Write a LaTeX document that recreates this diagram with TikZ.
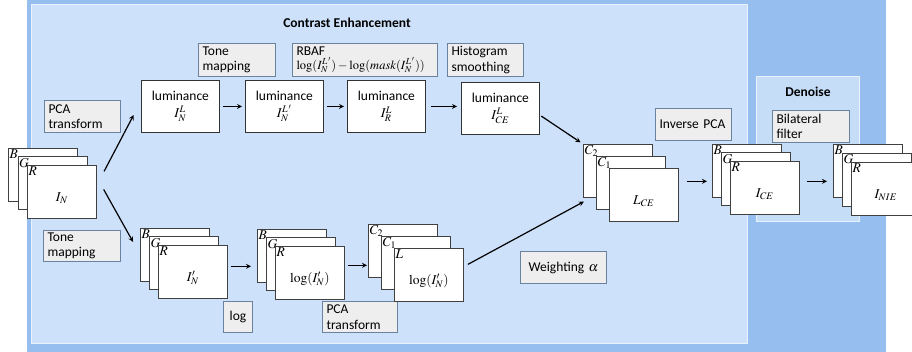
\documentclass[tikz,border=0pt]{standalone}
\usepackage{mathptmx}
\usepackage[no-math]{fontspec}
\setmainfont{Carlito}

\definecolor{outerblue}{RGB}{150,190,238}
\definecolor{panelblue}{RGB}{205,225,250}
\definecolor{denoiseblue}{RGB}{198,221,248}
\definecolor{opfill}{RGB}{238,238,238}
\definecolor{opline}{RGB}{105,130,160}

\tikzset{
  opbox/.style={draw=opline, fill=opfill, line width=1pt, anchor=north west,
    align=left, inner xsep=4pt, inner ysep=0pt},
  lumbox/.style={draw=black!80, fill=white, line width=0.8pt, anchor=north west,
    minimum width=78pt, minimum height=52pt, align=center, inner sep=0pt},
  layer/.style={draw=black!75, fill=white, line width=0.7pt, anchor=north west,
    minimum width=69pt, minimum height=53pt, inner sep=0pt},
  tag/.style={anchor=north west, inner sep=1.5pt},
  flow/.style={->, >=stealth, line width=1.2pt, shorten <=3pt, shorten >=3pt},
  title/.style={font=\fontsize{13.5}{15.5}\selectfont\bfseries}
}

\begin{document}
\begin{tikzpicture}[x=1pt, y=-1pt, font=\fontsize{13.5}{15.5}\selectfont]
  \useasboundingbox (0,0) rectangle (912,352);

  % three stacked image planes: name, x, y, dx, dy, back, middle, front, content
  \newcommand{\imgstack}[9]{
    \node[layer] (#1b) at (#2,#3) {};
    \node[tag] (#1bt) at (#1b.north west) {#6};
    \node[layer] (#1m) at ({#2+#4},{#3+#5}) {};
    \node[tag] (#1mt) at (#1m.north west) {#7};
    \node[layer] (#1f) at ({#2+2*#4},{#3+2*#5}) {};
    \node[tag] (#1ft) at (#1f.north west) {#8};
    \node (#1c) at ([yshift=-6pt]#1f.center) {#9};
  }
  \newcommand{\Lp}{L\mkern2mu'}

  % panels
  \fill[outerblue] (27,0) rectangle (886,352);
  \draw[white!55!panelblue, line width=1pt, fill=panelblue] (31,5) rectangle (747,343);
  \draw[white!55!panelblue, line width=1pt, fill=denoiseblue] (756,77) rectangle (859,222);
  \node[title] (cetitle) at (347,23) {Contrast Enhancement};
  \node[title] (dntitle) at (808,92) {Denoise};

  % operations
  \node[opbox, text width=68pt, minimum height=32pt] (pcaA) at (44,100) {PCA\\transform};
  \node[opbox, text width=69pt, minimum height=33pt] (toneA) at (198,43) {Tone\\mapping};
  \node[opbox, text width=137pt, minimum height=33pt, font=\fontsize{13.5}{13}\selectfont] (rbaf) at (292,43)
    {RBAF\\[1pt]{\fontsize{12.5}{13}\selectfont$\log(I_N^{\Lp})-\log(mask(I_N^{\Lp}))$}};
  \node[opbox, text width=68pt, minimum height=33pt] (hist) at (447,43) {Histogram\\smoothing};
  \node[opbox, text width=69pt, minimum height=31pt] (toneB) at (43,230) {Tone\\mapping};
  \node[opbox, text width=21pt, minimum height=31pt, align=center] (logop) at (223,301) {log};
  \node[opbox, text width=67pt, minimum height=31pt] (pcaB) at (322,301) {PCA\\transform};
  \node[opbox, text width=78pt, minimum height=32pt, align=center] (weight) at (520,251) {Weighting $\alpha$};
  \node[opbox, text width=68pt, minimum height=32pt] (invpca) at (655,108) {Inverse PCA};
  \node[opbox, text width=69pt, minimum height=32pt] (bilat) at (772,110) {Bilateral\\filter};

  % luminance channel
  \node[lumbox] (lumA) at (141,80) {luminance\\[2pt]$I_N^L$};
  \node[lumbox] (lumB) at (245,80) {luminance\\[2pt]$I_N^{\Lp}$};
  \node[lumbox] (lumC) at (347,80) {luminance\\[2pt]$I_R^L$};
  \node[lumbox] (lumD) at (461,82) {luminance\\[2pt]$I_{CE}^L$};

  % images
  \imgstack{in}{8}{148}{9.5}{8.5}{$B$}{$G$}{$R$}{$I_N$}
  \imgstack{tm}{140}{228}{9}{8.5}{$B$}{$G$}{$R$}{$I'_N$}
  \imgstack{lg}{257}{229}{9}{8.5}{$B$}{$G$}{$R$}{$\log(I'_N)$}
  \imgstack{pc}{368}{224}{13}{12}{$C_2$}{$C_1$}{$L$}{$\log(I'_N)$}
  \imgstack{ce}{583}{144}{13}{12}{$C_2$}{$C_1$}{}{$L_{CE}$}
  \imgstack{out}{712}{144}{9}{8.5}{$B$}{$G$}{$R$}{$I_{CE}$}
  \imgstack{nie}{833}{144}{9}{9}{$B$}{$G$}{$R$}{$I_{NIE}$}

  % arrows
  \draw[flow] ([shift={(6,9)}]inf.north east) -- ([shift={(-6,6)}]lumA.west);
  \draw[flow] ([shift={(5.5,-5)}]inf.east) -- ([shift={(-5.5,16.5)}]tmb.north west);
  \draw[flow] (lumA.east) -- (lumB.west);
  \draw[flow] (lumB.east) -- (lumC.west);
  \draw[flow, shorten <=5pt, shorten >=4pt] (lumC.east) -- (lumC.east -| lumD.west);
  \draw[flow] ([shift={(-1,6)}]lumD.east) -- (ceb.north west);
  \draw[flow, shorten >=6pt] ([yshift=5.5pt]tmf.east) -- ([yshift=5.5pt]tmf.east -| lgb.west);
  \draw[flow, shorten >=1pt] ([yshift=7.5pt]lgf.east) -- ([yshift=7.5pt]lgf.east -| pcb.west);
  \draw[flow] ([shift={(1.5,-9)}]pcf.east) -- ([shift={(3.5,2.5)}]ceb.south west);
  \draw[flow, shorten <=8pt, shorten >=5pt] ([yshift=13.5pt]cef.east) -- ([yshift=13.5pt]cef.east -| outb.west);
  \draw[flow, shorten <=7pt, shorten >=6pt] ([yshift=6.5pt]outf.east) -- ([yshift=6.5pt]outf.east -| nieb.west);
\end{tikzpicture}
\end{document}
